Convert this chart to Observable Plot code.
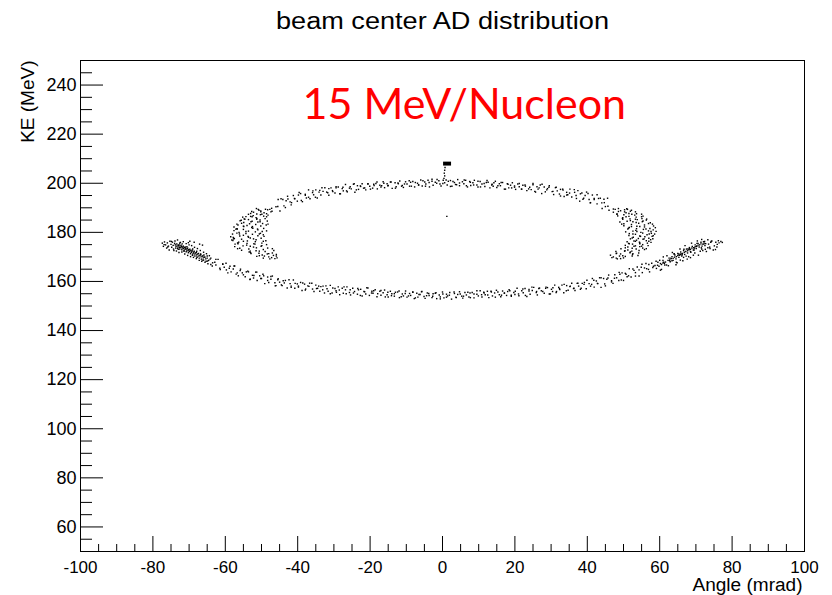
<!DOCTYPE html>
<html>
<head>
<meta charset="utf-8">
<script src="https://cdn.jsdelivr.net/npm/d3@7"></script>
<script src="https://cdn.jsdelivr.net/npm/@observablehq/plot@0.6"></script>
<style>
  html, body { margin: 0; padding: 0; background: #ffffff; }
  #chart svg { display: block; }
</style>
</head>
<body>
<div id="chart"></div>
<script>
// ---- text ----
const titleText = "beam center AD distribution";
const annotationText = "15 MeV/Nucleon";
const xTitle = "Angle (mrad)";
const yTitle = "KE (MeV)";

// ---- axes ----
const xMajor = [-100, -80, -60, -40, -20, 0, 20, 40, 60, 80, 100];
const yMajor = [60, 80, 100, 120, 140, 160, 180, 200, 220, 240];
const xMinor = [-95,-90,-85,-75,-70,-65,-55,-50,-45,-35,-30,-25,-15,-10,-5,5,10,15,25,30,35,45,50,55,65,70,75,85,90,95];
const yMinor = [55,65,70,75,85,90,95,105,110,115,125,130,135,145,150,155,165,170,175,185,190,195,205,210,215,225,230,235,245,250];

// ---- data: [angle (mrad), KE (MeV)] ----
const lowerTipLeft = [
[-77.4,175.6],[-77.1,174.3],[-76.8,176.1],[-76.5,174.9],[-76.2,173.6],[-76.0,175.7],[-75.7,174.4],[-75.5,172.8],[-75.3,176.4],[-75.0,175.1],[-74.8,173.9],[-74.6,176.0],[-74.4,174.7],[-74.2,172.6],[-74.0,175.5],
[-73.8,174.9],[-73.6,174.3],[-73.3,174.8],[-73.1,174.1],[-72.9,174.6],[-72.7,173.9],[-72.5,174.5],[-72.3,173.8],[-72.1,174.3],[-71.9,173.6],[-71.7,174.0],[-71.5,173.4],[-71.3,173.9],[-71.1,173.1],[-70.9,173.5],[-70.7,172.8],[-70.5,173.3],[-70.3,172.5],[-70.1,172.9],[-69.9,172.2],[-69.7,172.6],[-69.4,171.9],[-69.2,172.3],[-68.9,171.5],[-68.7,171.9],[-68.4,171.2],[-68.2,171.6],[-67.9,170.8],[-67.6,171.2],[-67.3,170.4],[-67.0,170.7],[-66.7,170.0],[-66.4,170.3],[-66.1,169.6],[-65.8,169.9],[-65.4,169.2],[-65.0,169.5],[-64.6,168.6],
[-73.4,175.3],[-72.8,175.0],[-72.2,174.8],[-71.6,174.4],[-71.0,174.0],[-70.4,173.6],[-69.8,173.1],[-69.2,172.7],[-68.6,172.3],[-68.0,171.8],[-67.4,171.4],[-66.8,170.9],[-66.2,170.4],[-65.6,169.9],
[-73.2,173.5],[-72.6,173.2],[-72.0,172.9],[-71.4,172.6],[-70.8,172.1],[-70.2,171.7],[-69.6,171.3],[-69.0,170.8],[-68.4,170.4],[-67.8,169.9],[-67.2,169.5],[-66.6,169.1],[-66.0,168.7],[-65.3,168.2],
[-73.9,176.5],[-73.5,172.4],[-73.2,176.9],[-72.8,171.8],[-72.4,175.9],[-72.0,172.0],[-71.6,176.2],[-71.2,171.2],[-70.8,175.4],[-70.4,170.6],[-70.0,174.9],[-69.6,170.1],[-69.3,174.6],[-68.8,169.8],[-68.5,173.9],[-68.0,169.3],[-67.7,173.4],[-67.2,168.6],[-66.9,172.6],[-66.5,168.2],[-66.0,171.9],[-65.6,167.8],[-65.2,171.3],[-64.8,167.2],[-64.4,170.5],[-64.0,166.9],[-74.3,173.2],[-73.0,173.1],[-71.9,175.3],[-70.6,174.2],[-69.1,170.7],[-67.8,169.9],[-66.2,168.7],[-65.0,170.4],
[-68.6,176.0],[-67.1,175.2],[-66.3,174.8],[-69.8,176.4],
[-76.9,175.0],[-75.9,174.0],[-74.9,176.3],[-73.7,173.6],[-72.6,175.6],[-71.4,172.3],[-70.2,175.8],[-69.0,173.2],[-67.9,172.3],[-66.8,171.2],[-65.9,170.8],[-64.9,168.3],[-64.2,169.1]
];

const lowerArc = [
[-64.0,169.5],[-63.6,166.3],[-62.9,167.8],[-62.6,166.7],[-62.0,169.0],[-61.5,165.4],[-60.7,167.0],[-60.3,165.8],[-59.8,167.4],[-59.3,163.5],[-58.7,166.2],[-58.4,163.9],[-57.8,165.1],[-57.4,166.3],[-56.7,163.5],[-56.4,162.3],[-55.8,165.0],[-55.3,163.5],[-54.5,161.9],[-54.2,163.9],[-53.6,163.9],[-53.2,160.8],[-52.5,162.5],[-52.2,161.4],[-51.6,163.8],[-51.2,160.4],[-50.5,162.3],[-50.2,161.2],[-49.6,162.9],[-49.1,159.1],[-48.3,161.8],[-48.0,159.6],[-47.4,160.9],[-47.0,162.2],[-46.3,159.5],[-46.0,158.3],[-45.4,161.1],[-45.0,159.7],[-44.3,158.3],[-44.0,160.3],[-43.4,160.4],[-42.9,157.3],[-42.1,159.1],[-41.8,158.1],[-41.2,160.6],[-40.8,157.2],[-40.1,159.0],[-39.8,158.1],[-39.2,159.6],[-38.8,156.3],[-38.1,158.9],[-37.8,156.9],[-37.2,158.2],[-36.7,159.3],[-35.9,156.9],[-35.5,155.9],[-35.0,158.5],[-34.5,157.2],[-33.9,156.0],[-33.6,157.9],[-33.0,158.1],[-32.6,155.3],[-31.9,157.0],[-31.6,156.0],[-31.0,158.4],[-30.5,155.3],[-29.7,157.1],[-29.4,156.2],[-28.8,157.8],[-28.4,154.6],[-27.7,157.2],[-27.4,155.2],[-26.8,156.6],[-26.4,157.8],[-25.7,155.5],[-25.4,154.5],[-24.8,157.2],[-24.3,155.9],[-23.5,154.8],[-23.2,156.6],[-22.6,156.8],[-22.2,154.1],[-21.5,155.8],[-21.2,154.9],[-20.6,157.3],[-20.2,154.3],[-19.5,156.0],[-19.2,155.2],[-18.6,156.6],[-18.1,153.8],[-17.3,156.0],[-17.0,154.4],[-16.4,155.4],[-16.0,156.5],[-15.3,154.6],[-15.0,153.7],[-14.4,156.0],[-14.0,155.0],[-13.3,154.0],[-13.0,155.6],[-12.4,155.7],[-11.9,153.4],[-11.1,154.9],[-10.8,154.1],[-10.2,156.1],[-9.8,153.6],[-9.1,155.1],[-8.8,154.3],[-8.2,155.7],[-7.8,153.0],[-7.1,155.2],[-6.8,153.6],[-6.2,154.7],[-5.8,155.8],[-5.1,153.9],[-4.8,153.1],[-4.2,155.3],[-3.7,154.3],[-2.9,153.4],[-2.6,155.0],[-2.0,155.2],[-1.6,153.0],[-0.9,154.5],[-0.6,153.7],[0.0,155.7],[0.4,153.3],[1.1,154.8],[1.4,154.1],[2.0,155.5],[2.5,152.8],[3.3,155.1],[3.7,153.6],[4.2,154.7],[4.7,155.8],[5.3,154.0],[5.6,153.2],[6.2,155.5],[6.6,154.5],[7.3,153.7],[7.6,155.3],[8.2,155.5],[8.7,153.3],[9.5,154.8],[9.9,154.1],[10.4,156.2],[10.9,153.7],[11.5,155.3],[11.8,154.6],[12.4,156.0],[12.8,153.4],[13.5,155.7],[13.8,154.1],[14.4,155.3],[14.9,156.4],[15.7,154.6],[16.1,153.8],[16.6,156.1],[17.1,155.2],[17.7,154.3],[18.0,155.9],[18.6,156.2],[19.0,154.0],[19.7,155.5],[20.0,154.7],[20.6,157.2],[21.1,154.2],[21.9,156.2],[22.3,155.4],[22.8,157.1],[23.3,153.9],[23.9,156.7],[24.2,154.8],[24.8,156.3],[25.2,157.6],[25.9,155.5],[26.2,154.5],[26.8,157.3],[27.3,156.2],[28.1,155.2],[28.5,157.2],[29.0,157.5],[29.5,154.9],[30.1,156.8],[30.4,155.9],[31.0,158.5],[31.4,155.5],[32.1,157.6],[32.4,156.7],[33.0,158.5],[33.5,155.4],[34.3,158.3],[34.7,156.4],[35.2,157.9],[35.7,159.3],[36.3,157.2],[36.6,156.3],[37.2,159.2],[37.6,158.1],[38.3,157.2],[38.6,159.2],[39.2,159.6],[39.7,157.0],[40.5,159.1],[40.9,158.1],[41.4,161.2],[41.9,157.7],[42.5,160.2],[42.8,159.2],[43.4,161.5],[43.8,157.6],[44.5,161.2],[44.8,159.0],[45.4,160.9],[45.9,162.6],[46.7,160.3],[47.1,159.2],[47.6,162.7],[48.1,161.5],[48.7,160.4],[49.0,162.9],[49.6,163.5],[50.0,160.4],[50.7,162.9],[51.0,161.9],[51.6,165.2],[52.1,161.8],[52.9,164.5],[53.3,163.6],[53.8,165.9],[54.3,162.2],[54.9,165.8],[55.2,163.6],[55.8,165.5],[56.2,167.3],[56.9,164.9],[57.2,163.9],[57.8,167.4],[58.3,166.2],[59.1,165.3],[59.5,167.8],[60.0,168.6],[60.5,164.9],[61.1,167.8],[61.4,166.7],[62.0,170.5],[62.4,166.4],[63.1,169.5],[63.4,168.4],[64.0,171.2],[64.5,166.8],[65.3,171.2],[65.7,168.7],[66.2,170.9],[66.7,173.1],[67.3,170.3],[67.6,169.1],[68.2,173.3],[68.6,171.9],[69.3,170.7],[69.6,173.6],[70.2,174.4],[70.7,170.7],[71.5,173.7],[71.9,172.6],[72.4,176.3],[72.9,172.2],[73.5,175.2],[73.8,174.0],[74.4,176.5],[74.8,172.8],[75.5,176.0],[75.8,174.0],[76.4,175.7],[76.9,176.3]
];

const lowerArcMore = [
[-63.5,167.6],[-62.6,169.0],[-61.4,164.8],[-60.7,167.1],[-59.7,164.7],[-58.9,165.4],[-57.6,166.3],[-57.0,163.0],[-55.9,164.4],[-55.0,162.7],[-53.8,164.2],[-53.1,160.9],[-52.1,162.4],[-51.3,163.8],[-50.0,161.2],[-49.4,162.3],[-48.3,160.4],[-47.4,162.0],[-46.2,158.2],[-45.5,160.7],[-44.5,158.6],[-43.7,159.4],[-42.4,160.7],[-41.8,157.6],[-40.7,159.2],[-39.8,157.7],[-38.6,159.4],[-37.9,156.5],[-36.9,158.0],[-36.1,159.3],[-34.8,157.1],[-34.2,158.1],[-33.1,156.6],[-32.2,158.2],[-31.0,155.0],[-30.3,157.3],[-29.3,155.6],[-28.5,156.5],[-27.2,157.8],[-26.6,155.0],[-25.5,156.6],[-24.6,155.3],[-23.4,157.1],[-22.7,154.3],[-21.7,155.9],[-20.9,157.4],[-19.6,155.3],[-19.0,156.2],[-17.9,155.0],[-17.0,156.3],[-15.8,153.7],[-15.1,155.6],[-14.1,154.2],[-13.3,155.0],[-12.0,156.1],[-11.4,153.8],[-10.3,155.1],[-9.4,154.1],[-8.2,155.6],[-7.5,153.3],[-6.5,154.7],[-5.7,155.9],[-4.4,154.2],[-3.8,155.1],[-2.7,154.0],[-1.8,155.4],[-0.6,152.9],[0.1,154.9],[1.1,153.6],[1.9,154.4],[3.2,155.7],[3.8,153.4],[4.9,154.9],[5.8,154.0],[7.0,155.6],[7.7,153.4],[8.7,154.9],[9.5,156.2],[10.8,154.6],[11.4,155.6],[12.5,154.5],[13.4,156.0],[14.6,153.6],[15.3,155.7],[16.3,154.4],[17.1,155.3],[18.4,156.6],[19.0,154.4],[20.1,156.0],[21.0,154.9],[22.2,156.9],[22.9,154.3],[23.9,156.1],[24.7,157.7],[26.0,155.9],[26.6,157.1],[27.7,155.9],[28.6,157.7],[29.8,154.9],[30.5,157.4],[31.5,155.9],[32.3,157.1],[33.6,158.8],[34.2,156.2],[35.3,158.1],[36.2,157.1],[37.4,159.3],[38.1,156.8],[39.1,158.8],[39.9,160.5],[41.2,158.8],[41.8,160.5],[42.9,159.1],[43.8,161.5],[45.0,158.2],[45.7,161.4],[46.7,159.8],[47.5,161.3],[48.8,163.7],[49.4,160.6],[50.5,163.3],[51.4,162.3],[52.6,165.1],[53.3,162.2],[54.3,164.7],[55.1,167.0],[56.4,165.2],[57.0,166.9],[58.1,165.7],[59.0,168.2],[60.2,164.6],[60.9,168.5],[61.9,166.7],[62.7,168.5],[64.0,171.3],[64.6,167.8],[65.7,170.9],[66.6,169.8],[67.8,173.2],[68.5,169.7],[69.5,172.8],[70.3,175.5],[71.6,173.2],[72.2,175.2],[73.3,173.7],[74.2,176.3],[75.4,173.0]
];

const lowerTipRight = [
[62.3,168.6],[62.8,168.8],[63.2,169.3],[63.7,169.4],[64.1,169.9],[64.6,170.1],[65.0,170.6],[65.4,170.7],[65.9,171.3],[66.3,171.4],[66.8,171.9],[67.2,172.2],[67.7,172.5],[68.1,172.9],[68.5,173.1],[68.9,173.6],[69.4,173.7],[69.8,174.2],[70.2,174.3],[70.6,174.8],[71.0,174.9],[71.4,175.3],[71.9,175.2],[72.3,175.6],[72.7,175.4],[61.6,167.9],[60.9,167.5],[60.2,167.3],[59.4,166.6],[58.7,166.5],
[62.6,169.5],[63.4,170.1],[64.2,170.8],[65.0,171.4],[65.8,172.0],[66.6,172.6],[67.4,173.2],[68.2,173.8],[69.0,174.3],[69.8,174.9],[70.6,175.5],[71.4,176.0],[72.1,176.2],
[62.9,168.0],[63.7,168.6],[64.5,169.2],[65.3,169.8],[66.1,170.4],[66.9,171.0],[67.7,171.6],[68.5,172.2],[69.3,172.8],[70.1,173.4],[70.9,174.0],[71.7,174.4],[72.5,174.6],[60.5,166.9],[61.3,167.4],[59.8,166.2],
[63.5,171.8],[65.6,173.2],[67.0,174.6],[68.8,175.6],[70.4,176.5],[71.6,177.1],[73.3,177.0],[74.1,175.9],[75.1,174.5],[76.2,176.6],[64.8,167.6],[66.4,168.4],[68.0,170.1],[69.7,171.6],[71.2,172.3],[72.6,173.1],[73.9,173.4],[75.9,175.1],[77.3,175.9],[61.0,170.0]
];

const upperArc = [
[-46.0,190.4],[-45.4,193.4],[-44.9,188.7],[-44.1,193.4],[-43.8,190.8],[-43.2,192.9],[-42.8,194.7],[-42.1,192.4],[-41.8,191.2],[-41.2,195.0],[-40.8,193.7],[-40.1,192.7],[-39.8,195.2],[-39.2,195.8],[-38.7,192.5],[-37.9,195.1],[-37.6,194.0],[-37.0,197.3],[-36.6,193.7],[-35.9,196.2],[-35.6,195.3],[-35.0,197.3],[-34.6,194.0],[-33.9,197.1],[-33.6,195.2],[-33.0,196.7],[-32.5,198.2],[-31.7,196.1],[-31.4,195.1],[-30.8,198.1],[-30.4,197.0],[-29.7,196.0],[-29.4,198.1],[-28.8,198.5],[-28.4,195.7],[-27.7,197.8],[-27.4,196.9],[-26.8,199.5],[-26.3,196.5],[-25.5,198.6],[-25.2,197.7],[-24.6,199.6],[-24.2,196.3],[-23.5,199.0],[-23.2,197.5],[-22.6,198.7],[-22.2,199.8],[-21.5,198.1],[-21.2,197.3],[-20.6,199.7],[-20.1,198.8],[-19.3,198.0],[-19.0,199.6],[-18.4,199.9],[-18.0,197.7],[-17.3,199.2],[-17.0,198.5],[-16.4,200.6],[-16.0,198.2],[-15.3,199.8],[-15.0,199.1],[-14.4,200.5],[-13.9,197.9],[-13.1,200.2],[-12.8,198.6],[-12.2,199.8],[-11.8,200.9],[-11.1,199.1],[-10.8,198.3],[-10.2,200.6],[-9.8,199.7],[-9.1,198.8],[-8.8,200.4],[-8.2,200.7],[-7.7,198.5],[-6.9,200.0],[-6.6,199.3],[-6.0,201.3],[-5.6,198.9],[-4.9,200.5],[-4.6,199.7],[-4.0,201.2],[-3.6,198.5],[-2.9,200.8],[-2.6,199.2],[-2.0,200.4],[-1.5,201.5],[-0.7,199.7],[-0.4,198.9],[0.2,201.2],[0.6,200.2],[1.3,199.3],[1.6,200.8],[2.2,201.1],[2.6,198.8],[3.3,200.3],[3.6,199.5],[4.2,201.5],[4.7,199.0],[5.5,200.6],[5.9,199.8],[6.4,201.2],[6.9,198.5],[7.5,200.7],[7.8,199.1],[8.4,200.2],[8.8,201.2],[9.5,199.3],[9.8,198.5],[10.4,200.7],[10.9,199.7],[11.7,198.7],[12.1,200.3],[12.6,200.4],[13.1,198.1],[13.7,199.6],[14.0,198.8],[14.6,200.8],[15.0,198.3],[15.7,199.8],[16.0,199.0],[16.6,200.3],[17.1,197.6],[17.9,199.8],[18.3,198.1],[18.8,199.2],[19.3,200.2],[19.9,198.4],[20.2,197.5],[20.8,199.7],[21.2,198.6],[21.9,197.6],[22.2,199.2],[22.8,199.3],[23.3,197.0],[24.1,198.4],[24.5,197.4],[25.0,199.9],[25.5,196.7],[26.1,198.6],[26.4,197.6],[27.0,199.3],[27.4,195.8],[28.1,198.5],[28.4,196.5],[29.0,197.8],[29.5,199.0],[30.3,196.6],[30.7,195.4],[31.2,198.2],[31.7,196.9],[32.3,195.6],[32.6,197.5],[33.2,197.6],[33.6,194.6],[34.3,196.3],[34.6,195.3],[35.2,197.6],[35.7,194.4],[36.5,196.3],[36.9,195.0],[37.4,197.0],[37.9,192.7],[38.5,196.0],[38.8,193.5],[39.4,195.0],[39.8,196.4],[40.5,193.4],[40.8,192.0],[41.4,195.2],[41.9,193.4],[42.7,191.6],[43.1,193.8],[43.6,193.9],[44.1,189.7],[44.7,192.1],[45.0,190.5],[45.6,193.9],[46.0,189.0]
];

const upperArcMore = [
[-45.5,190.5],[-44.6,193.7],[-43.4,190.1],[-42.7,193.6],[-41.7,192.1],[-40.9,193.8],[-39.6,196.2],[-39.0,193.0],[-37.9,195.5],[-37.0,194.3],[-35.8,196.9],[-35.1,194.3],[-34.1,196.4],[-33.3,198.2],[-32.0,196.4],[-31.4,197.8],[-30.3,196.6],[-29.4,198.6],[-28.2,195.7],[-27.5,198.4],[-26.5,196.9],[-25.7,198.0],[-24.4,199.8],[-23.8,197.3],[-22.7,198.9],[-21.8,198.0],[-20.6,199.8],[-19.9,197.6],[-18.9,199.1],[-18.1,200.5],[-16.8,199.0],[-16.2,200.0],[-15.1,199.0],[-14.2,200.5],[-13.0,198.0],[-12.3,200.1],[-11.3,198.8],[-10.5,199.7],[-9.2,201.0],[-8.6,198.8],[-7.5,200.3],[-6.6,199.3],[-5.4,201.0],[-4.7,198.8],[-3.7,200.3],[-2.9,201.6],[-1.6,200.0],[-1.0,201.0],[0.1,199.9],[1.0,201.3],[2.2,198.7],[2.9,200.7],[3.9,199.4],[4.7,200.1],[6.0,201.3],[6.6,199.0],[7.7,200.4],[8.6,199.3],[9.8,200.8],[10.5,198.5],[11.5,199.9],[12.3,201.1],[13.6,199.3],[14.2,200.2],[15.3,199.0],[16.2,200.3],[17.4,197.6],[18.1,199.6],[19.1,198.1],[19.9,198.9],[21.2,199.9],[21.8,197.6],[22.9,198.8],[23.8,197.7],[25.0,199.4],[25.7,196.4],[26.7,198.1],[27.5,199.6],[28.8,197.3],[29.4,198.4],[30.5,196.7],[31.4,198.4],[32.6,194.8],[33.3,197.2],[34.3,195.2],[35.1,196.0],[36.4,197.4],[37.0,193.8],[38.1,195.7],[39.0,193.9],[40.2,195.8],[40.9,192.1],[41.9,193.8],[42.7,195.3],[44.0,192.0],[44.6,193.5],[45.7,190.6]
];

const leftLobe = [
[-51.4,189.7],[-48.9,189.4],[-47.2,189.8],[-50.7,189.0],[-48.3,189.2],[-52.7,188.5],[-50.2,188.7],[-47.1,188.6],[-52.2,188.2],[-49.3,188.0],[-53.0,187.7],[-51.3,187.5],[-48.6,187.6],[-50.3,187.2],[-48.2,187.0],[-53.0,186.5],[-52.3,186.8],[-49.4,186.6],[-55.2,186.2],[-51.5,186.0],[-54.8,185.5],[-51.3,185.7],[-49.0,185.6],[-53.6,185.2],[-50.4,185.0],[-55.9,184.7],[-52.6,184.5],[-48.4,184.6],[-54.9,184.0],[-51.0,184.2],[-55.5,183.7],[-53.3,183.5],[-49.7,183.6],[-51.6,183.2],[-48.7,183.0],[-55.0,182.5],[-54.0,182.8],[-50.2,182.6],[-57.6,182.2],[-52.7,182.0],[-56.8,181.5],[-52.4,181.7],[-49.4,181.6],[-55.0,181.2],[-51.0,181.0],[-57.6,180.7],[-53.6,180.5],[-48.6,180.6],[-56.2,180.0],[-51.7,180.2],[-56.8,179.7],[-54.3,179.5],[-50.3,179.6],[-52.5,179.2],[-49.5,179.0],[-56.0,178.5],[-55.0,178.8],[-51.0,178.6],[-58.5,178.2],[-53.6,178.0],[-57.5,177.5],[-53.1,177.7],[-50.1,177.6],[-55.5,177.2],[-51.5,177.0],[-57.9,176.7],[-53.9,176.5],[-48.8,176.6],[-56.3,176.0],[-51.7,176.2],[-56.6,175.7],[-54.0,175.5],[-49.9,175.6],[-51.8,175.2],[-48.6,175.0],[-55.1,174.5],[-54.1,174.8],[-49.9,174.6],[-57.4,174.2],[-52.2,174.0],[-56.0,173.5],[-51.4,173.7],[-48.3,173.6],[-53.5,173.2],[-49.5,173.0],[-55.5,172.7],[-51.5,172.5],[-46.6,172.6],[-53.4,172.0],[-49.0,172.2],[-53.0,171.7],[-50.7,171.5],[-47.0,171.6],[-48.4,171.2],[-45.9,171.0],[-50.6,170.5],[-49.8,170.8],[-46.7,170.6],[-51.3,170.2],[-48.0,170.0],[-49.5,169.5],[-47.2,169.7],[-45.7,169.6],[-47.7,169.2],[-46.3,169.3],
[-50.9,189.35],[-47.7,189.35],[-50.2,188.35],[-47.4,188.35],[-53.6,187.35],[-49.9,187.35],[-52.6,186.35],[-48.6,186.35],[-54.6,185.35],[-51.3,185.35],[-52.9,184.35],[-50.4,184.35],[-56.8,183.35],[-48.2,183.35],[-54.9,182.35],[-52.5,182.35],[-51.1,181.35],[-56.7,181.35],[-54.3,180.35],[-49.8,180.35],[-56.1,179.35],[-50.6,179.35],[-53.7,178.35],[-49.3,178.35],[-57.7,177.35],[-52.2,177.35],[-55.0,176.35],[-49.5,176.35],[-56.5,175.35],[-52.1,175.35],[-53.1,174.35],[-50.1,174.35],[-56.6,173.35],[-47.0,173.35],[-53.1,172.35],[-50.6,172.35],[-48.0,171.35],[-52.9,171.35],[-49.2,170.35],[-45.9,170.35],
[-58.0,179.3],[-57.8,177.9],[-58.2,176.9],[-57.3,175.2],[-57.1,181.3],[-56.5,183.0],[-55.6,184.9],[-54.3,186.4]
];

const rightLobe = [
[47.2,189.5],[48.6,189.7],[50.9,189.6],[50.3,189.2],[52.2,189.0],[48.6,188.5],[49.2,188.8],[51.9,188.6],[47.2,188.2],[50.7,188.0],[48.2,187.5],[51.5,187.7],[53.6,187.6],[50.1,187.2],[53.1,187.0],[48.4,186.7],[51.5,186.5],[55.4,186.6],[49.8,186.0],[53.5,186.2],[49.7,185.7],[51.8,185.5],[55.1,185.6],[53.8,185.2],[56.3,185.0],[51.0,184.5],[51.9,184.8],[55.4,184.6],[49.0,184.2],[53.5,184.0],[50.1,183.5],[54.2,183.7],[56.9,183.6],[52.2,183.2],[55.8,183.0],[50.1,182.7],[53.7,182.5],[58.3,182.6],[51.6,182.0],[55.8,182.2],[51.4,181.7],[53.6,181.5],[57.3,181.6],[55.5,181.2],[58.2,181.0],[52.6,180.5],[53.4,180.8],[56.9,180.6],[50.6,180.2],[54.8,180.0],[51.6,179.5],[55.3,179.7],[57.7,179.6],[53.3,179.2],[56.5,179.0],[51.5,178.7],[54.5,178.5],[58.2,178.6],[52.7,178.0],[55.9,178.2],[52.4,177.7],[54.1,177.5],[57.0,177.6],[55.4,177.2],[57.5,177.0],[52.9,176.5],[53.6,176.8],[56.3,176.6],[51.0,176.2],[54.4,176.0],[51.4,175.5],[54.5,175.7],[56.6,175.6],[52.5,175.2],[55.3,175.0],[50.5,174.7],[53.3,174.5],[56.8,174.6],[51.2,174.0],[54.5,174.2],[50.5,173.7],[52.4,173.5],[55.3,173.6],[53.5,173.2],[55.8,173.0],[50.4,172.5],[51.2,172.8],[54.3,172.6],[47.9,172.2],[51.9,172.0],[48.1,171.5],[51.8,171.7],[54.2,171.6],[49.2,171.2],[52.5,171.0],[46.4,170.7],[49.8,170.5],[54.0,170.6],[47.2,170.0],[50.5,170.2],[46.8,169.7],[48.0,169.5],[50.0,169.6],[48.3,169.2],[49.2,169.3],
[47.7,189.35],[51.1,189.35],[50.3,188.35],[53.3,188.35],[48.2,187.35],[52.3,187.35],[50.7,186.35],[55.0,186.35],[49.8,185.35],[53.3,185.35],[52.6,184.35],[55.2,184.35],[49.5,183.35],[58.0,183.35],[52.2,182.35],[54.5,182.35],[56.2,181.35],[51.2,181.35],[53.7,180.35],[57.6,180.35],[52.6,179.35],[57.1,179.35],[54.7,178.35],[57.9,178.35],[51.9,177.35],[55.7,177.35],[53.3,176.35],[57.0,176.35],[51.6,175.35],[54.5,175.35],[52.9,174.35],[55.0,174.35],[49.3,173.35],[56.3,173.35],[50.3,172.35],[52.3,172.35],[52.6,171.35],[48.0,171.35],[48.9,170.35],[52.4,170.35],
[58.8,181.9],[59.0,180.4],[58.6,179.3],[58.1,177.4],[57.6,175.9],[57.4,183.9],[56.4,185.4],[55.0,187.4]
];

const centerTail = [[0.7,206.4],[0.6,205.3],[0.5,204.1],[0.6,203.0],[0.4,202.0],[1.2,186.5]];

// the one heavily filled bin at the top (angle 0.3..2.5, KE 207.0..208.6)
const peakBin = [{a1: 0.3, a2: 2.5, k1: 207.0, k2: 208.6}];

const points = [...lowerTipLeft, ...lowerArc, ...lowerArcMore, ...lowerTipRight, ...upperArc, ...upperArcMore, ...leftLobe, ...rightLobe, ...centerTail];

const W = 832, H = 595;
const mL = 80, mR = 28, mT = 60, mB = 44;
const frameW = W - mL - mR, frameH = H - mT - mB;
const font = "'Liberation Sans', Arial, Helvetica, sans-serif";

const chart = Plot.plot({
  width: W, height: H,
  marginLeft: mL, marginRight: mR, marginTop: mT, marginBottom: mB,
  x: {domain: [-100, 100], axis: null},
  y: {domain: [50, 250], axis: null},
  style: {fontFamily: font, background: "#ffffff", color: "#000000", overflow: "visible"},
  marks: [
    Plot.dot(points, {x: d => d[0], y: d => d[1], r: 0.8, symbol: "square", fill: "#000000"}),
    Plot.rect(peakBin, {x1: "a1", x2: "a2", y1: "k1", y2: "k2", fill: "#000000"}),
    // inward ticks
    Plot.tickX(xMajor, {x: d => d, insetTop: frameH - 15, stroke: "#000000"}),
    Plot.tickX(xMinor, {x: d => d, insetTop: frameH - 7, stroke: "#000000"}),
    Plot.tickY(yMajor, {y: d => d, insetRight: frameW - 23, stroke: "#000000"}),
    Plot.tickY(yMinor, {y: d => d, insetRight: frameW - 12, stroke: "#000000"}),
    Plot.frame({stroke: "#000000", strokeWidth: 1}),
    // tick labels
    Plot.text(xMajor, {x: d => d, text: d => String(d), frameAnchor: "bottom", dy: 9, lineAnchor: "top", fontSize: 17, fill: "#000000"}),
    Plot.text(yMajor, {y: d => d, text: d => String(d), frameAnchor: "left", dx: -4, textAnchor: "end", lineAnchor: "middle", fontSize: 18, fill: "#000000"}),
    // axis titles
    Plot.text([xTitle], {text: d => d, frameAnchor: "bottom-right", dx: -2, dy: 39.5, textAnchor: "end", lineAnchor: "bottom", fontSize: 18, fill: "#000000"}),
    Plot.text([yTitle], {text: d => d, frameAnchor: "top-left", dx: -47, dy: 0, rotate: -90, textAnchor: "end", lineAnchor: "bottom", fontSize: 19, fill: "#000000"}),
    // title
    Plot.text([titleText], {text: d => d, frameAnchor: "top", dy: -32, lineAnchor: "bottom", fontSize: 23, fill: "#000000"}),
    // red annotation
    Plot.text([annotationText], {text: d => d, frameAnchor: "top-left", dx: 222, dy: 58, textAnchor: "start", lineAnchor: "bottom", fontSize: 43, fontFamily: "Lato, 'Open Sans', sans-serif", fill: "#ff0000"})
  ]
});

document.getElementById("chart").appendChild(chart);

// widen the title and x-axis title to their drawn lengths
d3.select(chart).selectAll("text").each(function () {
  if (this.textContent === titleText) {
    this.setAttribute("textLength", 333);
    this.setAttribute("lengthAdjust", "spacingAndGlyphs");
  } else if (this.textContent === xTitle) {
    this.setAttribute("textLength", 110);
    this.setAttribute("lengthAdjust", "spacingAndGlyphs");
  }
});
</script>
</body>
</html>
